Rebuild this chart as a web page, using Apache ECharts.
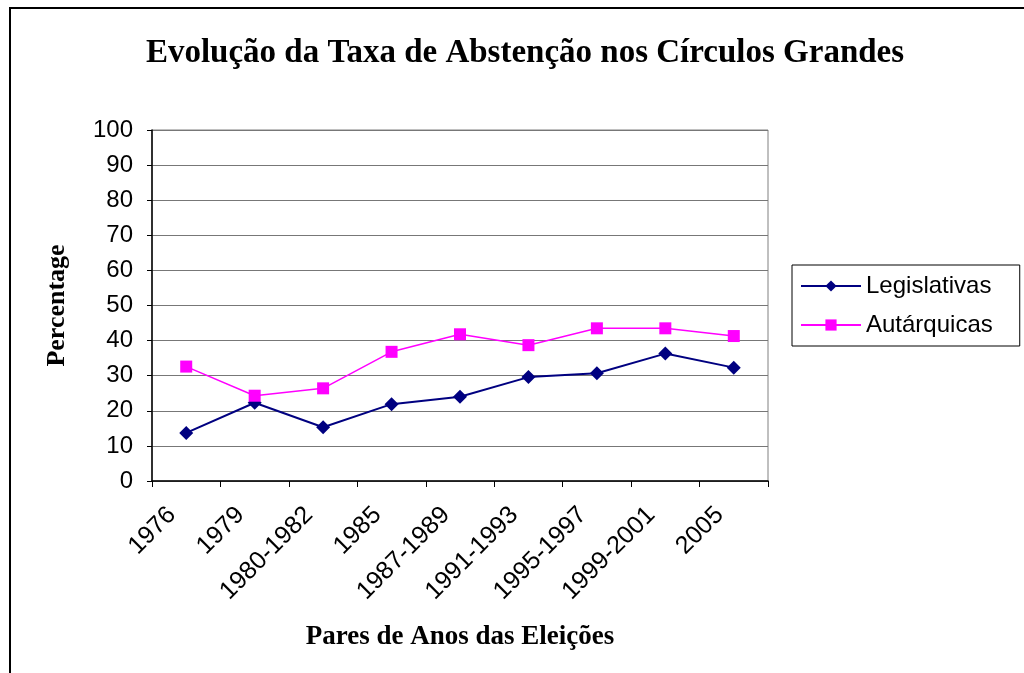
<!DOCTYPE html>
<html>
<head>
<meta charset="utf-8">
<script src="https://cdn.jsdelivr.net/npm/echarts@6/dist/echarts.min.js"></script>
<style>
  html, body { margin: 0; padding: 0; background: #fff; }
  #main { width: 1024px; height: 673px; }
</style>
</head>
<body>
<div id="main"></div>
<script>
const categories = ['1976', '1979', '1980-1982', '1985', '1987-1989', '1991-1993', '1995-1997', '1999-2001', '2005'];
const legislativas = [13.7, 22.3, 15.3, 21.9, 24.0, 29.6, 30.7, 36.3, 32.3];
const autarquicas = [32.6, 24.3, 26.4, 36.8, 41.8, 38.7, 43.5, 43.5, 41.3];
const yTicks = [0, 10, 20, 30, 40, 50, 60, 70, 80, 90, 100];

const myChart = echarts.init(document.getElementById('main'));

const option = {
    backgroundColor: '#fff',
    animation: false,
    title: {
        text: 'Evolução da Taxa de Abstenção nos Círculos Grandes',
        left: 520,
        top: 32,
        textAlign: 'center',
        textStyle: {
            fontFamily: 'Liberation Serif',
            fontWeight: 'bold',
            fontSize: 33,
            color: '#000'
        }
    },
    graphic: [
        {
            type: 'rect',
            shape: { x: 10, y: 8, width: 1100, height: 700 },
            style: { fill: 'none', stroke: '#000', lineWidth: 2 },
            silent: true
        }
    ],
    legend: {
        orient: 'vertical',
        left: 792,
        top: 265,
        padding: [9, 27, 9, 8],
        itemGap: 15,
        itemWidth: 60,
        itemHeight: 14,
        borderColor: '#000',
        borderWidth: 1,
        textStyle: {
            fontFamily: 'Liberation Sans',
            fontSize: 24,
            color: '#000'
        },
        data: ['Legislativas', 'Autárquicas']
    },
    grid: {
        left: 152,
        top: 130,
        width: 616,
        height: 351,
        outerBoundsMode: 'none',
        show: true,
        borderColor: '#808080',
        borderWidth: 1
    },
    xAxis: {
        type: 'category',
        data: categories,
        boundaryGap: true,
        name: 'Pares de Anos das Eleições',
        nameLocation: 'middle',
        nameGap: 143,
        nameTextStyle: {
            fontFamily: 'Liberation Serif',
            fontWeight: 'bold',
            fontSize: 27,
            color: '#000'
        },
        axisLine: { lineStyle: { color: '#000', width: 1.5 } },
        axisTick: { show: true, length: 6, alignWithLabel: false, lineStyle: { color: '#000' } },
        axisLabel: {
            rotate: 45,
            margin: 16,
            padding: [0, 20, 0, 0],
            interval: 0,
            fontFamily: 'Liberation Sans',
            fontSize: 25,
            color: '#000'
        },
        splitLine: { show: false }
    },
    yAxis: {
        type: 'value',
        min: 0,
        max: 100,
        interval: 10,
        name: 'Percentage',
        nameLocation: 'middle',
        nameGap: 82,
        nameTextStyle: {
            fontFamily: 'Liberation Serif',
            fontWeight: 'bold',
            fontSize: 26,
            color: '#000'
        },
        axisLine: { show: true, lineStyle: { color: '#000', width: 1.5 } },
        axisTick: { show: true, length: 5, lineStyle: { color: '#000' } },
        axisLabel: {
            margin: 19,
            fontFamily: 'Liberation Sans',
            fontSize: 24,
            color: '#000',
            formatter: function (v) { return yTicks.indexOf(v) >= 0 ? String(v) : ''; }
        },
        splitLine: { show: true, lineStyle: { color: '#777', width: 1.2 } }
    },
    series: [
        {
            name: 'Legislativas',
            type: 'line',
            data: legislativas,
            symbol: 'diamond',
            symbolSize: 14,
            color: '#000080',
            lineStyle: { color: '#000080', width: 2 },
            itemStyle: { color: '#000080' }
        },
        {
            name: 'Autárquicas',
            type: 'line',
            data: autarquicas,
            symbol: 'rect',
            symbolSize: 12,
            color: '#ff00ff',
            lineStyle: { color: '#ff00ff', width: 1.5 },
            itemStyle: { color: '#ff00ff' }
        }
    ]
};

myChart.setOption(option);
</script>
</body>
</html>
